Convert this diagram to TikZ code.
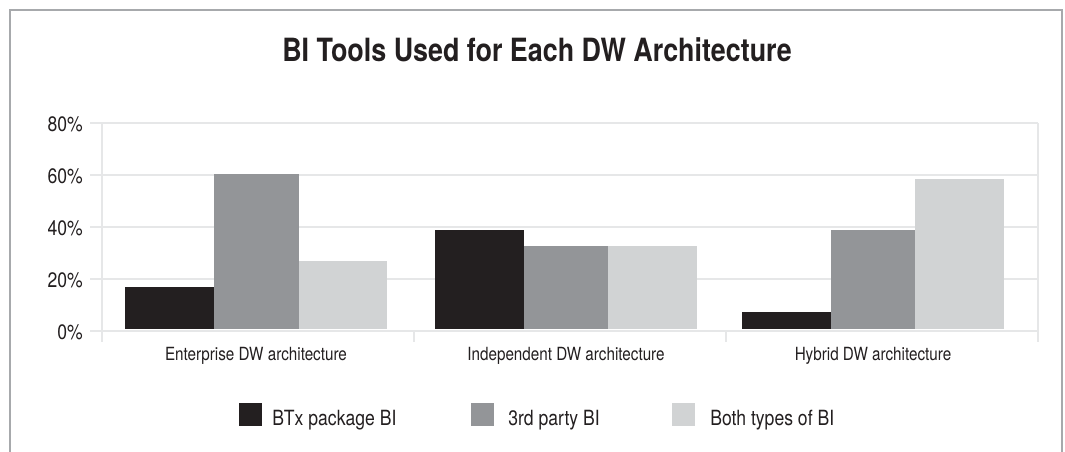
\documentclass[tikz,border=0pt]{standalone}
\usepackage{fontspec}
\setmainfont{TeX Gyre Heros}[FakeStretch=0.84]
\definecolor{ink}{HTML}{231F20}
\definecolor{barA}{HTML}{231F20}
\definecolor{barB}{HTML}{939598}
\definecolor{barC}{HTML}{D1D3D4}
\definecolor{gridc}{HTML}{E6E7E8}
\definecolor{framec}{HTML}{A7A9AC}
\tikzset{
  framebox/.style={draw=framec, line width=1.9pt},
  gridline/.style={draw=gridc, line width=2pt},
  ticklabel/.style={anchor=base east, inner sep=0pt, text=ink, font=\fontsize{15.7}{18}\selectfont},
  catlabel/.style={anchor=base, inner sep=0pt, text=ink, font=\fontsize{13.6}{16}\selectfont},
  legendlabel/.style={anchor=base west, inner sep=0pt, text=ink, font=\fontsize{15.7}{18}\selectfont},
  titlelabel/.style={anchor=base, inner sep=0pt, text=ink, font=\fontsize{24}{28}\selectfont\bfseries},
}
\begin{document}
\begin{tikzpicture}[x=0.75pt, y=-0.75pt]
\useasboundingbox (0,0) rectangle (1065,451);
\fill[white] (0,0) rectangle (1065,451);

% outer frame (open at the bottom)
\draw[framebox] (10,455) -- (10,10) -- (1062,10) -- (1062,455);

% title
\node[titlelabel] (title) at (537,61) {BI Tools Used for Each DW Architecture};

% horizontal gridlines
\foreach \yy in {123,175,227,279,331}
  \draw[gridline] (90,\yy) -- (1038,\yy);
% vertical axis, right edge and category ticks
\draw[gridline] (102,123) -- (102,342);
\draw[gridline] (1038,123) -- (1038,342);
\draw[gridline] (414,331) -- (414,342);
\draw[gridline] (726,331) -- (726,342);

% y-axis labels
\node[ticklabel] (t80) at (83,131) {80\%};
\node[ticklabel] (t60) at (83,183) {60\%};
\node[ticklabel] (t40) at (83,235) {40\%};
\node[ticklabel] (t20) at (83,287) {20\%};
\node[ticklabel] (t0)  at (83,339) {0\%};

% bars: Enterprise DW architecture
\fill[barA] (125,328.5) rectangle (214,287);
\fill[barB] (214,328.5) rectangle (299,174);
\fill[barC] (299,328.5) rectangle (387,261);
% bars: Independent DW architecture
\fill[barA] (435,328.5) rectangle (524,230);
\fill[barB] (524,328.5) rectangle (608,246);
\fill[barC] (608,328.5) rectangle (697,246);
% bars: Hybrid DW architecture
\fill[barA] (742,328.5) rectangle (831,312);
\fill[barB] (831,328.5) rectangle (915,230);
\fill[barC] (915,328.5) rectangle (1004,179);

% category labels
\node[catlabel] (cat1) at (256,360) {Enterprise DW architecture};
\node[catlabel] (cat2) at (566,360) {Independent DW architecture};
\node[catlabel] (cat3) at (873,360) {Hybrid DW architecture};

% legend
\fill[barA] (239,403) rectangle (262,426);
\node[legendlabel] (leg1) at (272,425) {BTx package BI};
\fill[barB] (471,403) rectangle (494,426);
\node[legendlabel] (leg2) at (508,425) {3rd party BI};
\fill[barC] (672,403) rectangle (695,426);
\node[legendlabel] (leg3) at (710,425) {Both types of BI};
\end{tikzpicture}
\end{document}
